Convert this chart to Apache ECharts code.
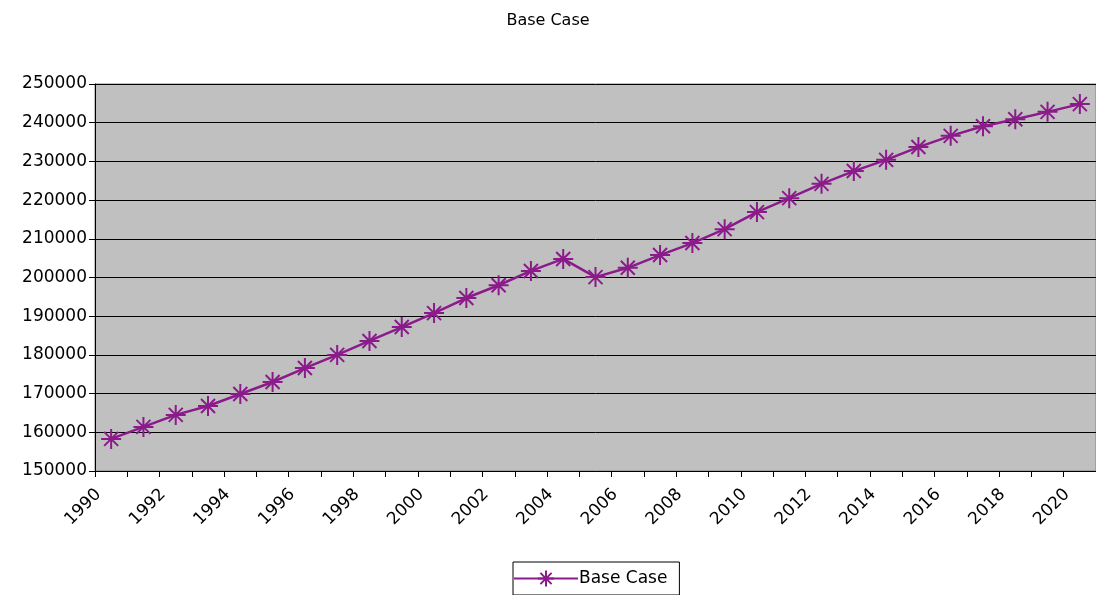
<!DOCTYPE html>
<html><head><meta charset="utf-8">
<script src="https://cdn.jsdelivr.net/npm/echarts@6/dist/echarts.min.js"></script>
<style>html,body{margin:0;background:#fff}#c{width:1096px;height:595px}</style>
</head><body><div id="c"></div>
<script>
// categories
const years = [];
for (let y = 1990; y <= 2020; y++) years.push(String(y));
// series values
const baseCase = [158300, 161400, 164500, 166800, 169900, 173000, 176600, 180000, 183600, 187200,
  190800, 194700, 198000, 201700, 204800, 200100, 202500, 205800, 208900, 212500,
  216900, 220500, 224200, 227500, 230400, 233700, 236600, 239100, 240900, 242800, 244800];

const star = 'path://M0,-10L0,10M-10,0L10,0M-7,-7L7,7M-7,7L7,-7';
const font = 'DejaVu Sans';

const chart = echarts.init(document.getElementById('c'));
chart.setOption({
  animation: false,
  title: { text: 'Base Case', left: 'center', top: 8,
    textStyle: { fontFamily: font, fontSize: 16, fontWeight: 'normal', color: '#000' } },
  grid: { left: 95, right: 0, top: 84, bottom: 124, backgroundColor: '#C0C0C0', show: true, borderColor: '#808080', borderWidth: 1 },
  legend: {
    bottom: 0, left: 513, data: ['Base Case'], borderColor: '#000', borderWidth: 1, borderRadius: 0,
    padding: [6, 12, 6, 0], itemWidth: 64, itemHeight: 20, itemGap: 0,
    textStyle: { fontFamily: font, fontSize: 17, color: '#000', padding: [0, 0, 0, -4] }
  },
  xAxis: {
    type: 'category', data: years, boundaryGap: true,
    axisLine: { lineStyle: { color: '#000' } },
    axisTick: { show: true, interval: 0, length: 6, lineStyle: { color: '#000' } },
    axisLabel: { interval: 1, rotate: 45, fontFamily: font, fontSize: 17, color: '#000', margin: 8, padding: [0, 18, 0, 0] }
  },
  yAxis: {
    type: 'value', min: 150000, max: 250000, interval: 10000,
    axisLine: { show: true, lineStyle: { color: '#000' } },
    axisTick: { show: true, length: 6, lineStyle: { color: '#000' } },
    splitLine: { lineStyle: { color: '#000', width: 1 } },
    axisLabel: { fontFamily: font, fontSize: 17, color: '#000', margin: 8, formatter: v => String(v) }
  },
  series: [{
    name: 'Base Case', type: 'line', data: baseCase,
    symbol: star, symbolSize: 20,
    lineStyle: { color: '#8B1A8B', width: 2.5 },
    itemStyle: { color: 'none', borderColor: '#8B1A8B', borderWidth: 2 }
  }]
});
</script></body></html>
